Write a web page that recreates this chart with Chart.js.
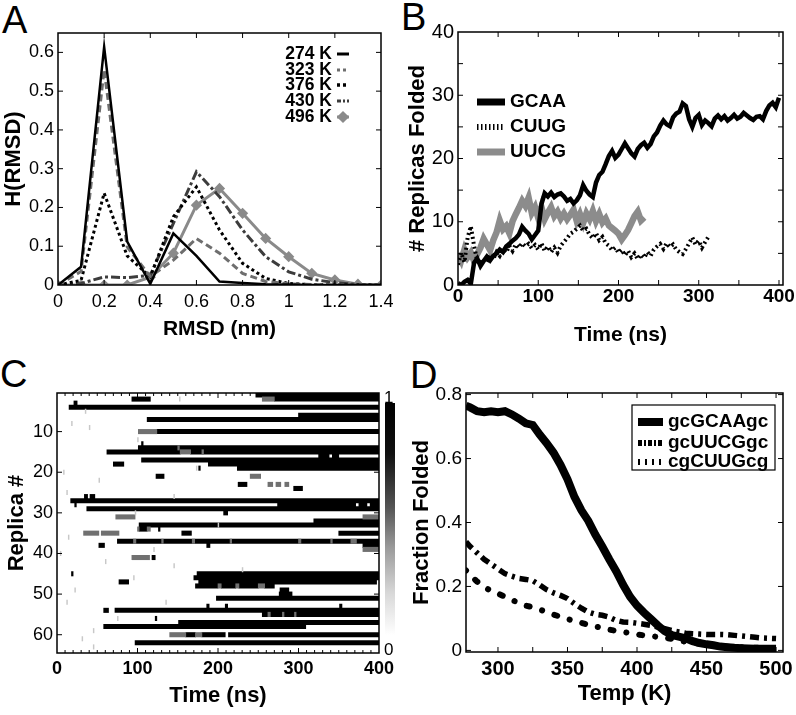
<!DOCTYPE html>
<html>
<head>
<meta charset="utf-8">
<script src="https://cdn.jsdelivr.net/npm/chart.js@4.4.1/dist/chart.umd.min.js"></script>
<style>
  body { margin: 0; background: #fff; width: 796px; height: 715px; position: relative; overflow: hidden;
         font-family: "Liberation Sans", Arial, sans-serif; }
  canvas { position: absolute; }
  .letter { position: absolute; font-size: 38px; line-height: 38px; color: #000; }
  .cbar { position: absolute; left: 385px; top: 403px; width: 10px; height: 232px;
          background: linear-gradient(#000 0%, #111 22%, #555 45%, #999 62%, #d8d8d8 82%, #fff 100%); }
  .cbar-lbl { position: absolute; font-size: 17px; line-height: 17px; }
</style>
</head>
<body>
<div class="letter" style="left:2px;top:1px">A</div>
<div class="letter" style="left:401px;top:-2px">B</div>
<div class="letter" style="left:0px;top:355px">C</div>
<div class="letter" style="left:410px;top:356px">D</div>

<canvas id="chartA" width="400" height="355" style="left:0;top:0"></canvas>
<canvas id="chartB" width="396" height="355" style="left:400px;top:0"></canvas>
<canvas id="chartC" width="400" height="355" style="left:0;top:360px"></canvas>
<canvas id="chartD" width="396" height="355" style="left:400px;top:360px"></canvas>
<div class="cbar"></div>
<div class="cbar-lbl" style="left:384px;top:389px">1</div>
<div class="cbar-lbl" style="left:384px;top:641px">0</div>

<script>
// ---------- panel A: RMSD histograms ----------
const rmsdBins = [0, 0.1, 0.2, 0.3, 0.4, 0.5, 0.6, 0.7, 0.8, 0.9, 1.0, 1.1, 1.2, 1.3, 1.4];
const tempLabels = ['274 K', '323 K', '376 K', '430 K', '496 K'];
const h274 = [0, 0.047, 0.614, 0.112, 0.003, 0.133, 0.075, 0.009, 0.005, 0.002, 0.001, 0, 0, 0, 0];
const h323 = [0, 0.035, 0.555, 0.098, 0.022, 0.064, 0.12, 0.082, 0.03, 0.009, 0.003, 0.001, 0, 0, 0];
const h376 = [0, 0.012, 0.237, 0.075, 0.021, 0.176, 0.253, 0.142, 0.056, 0.017, 0.004, 0.001, 0, 0, 0];
const h430 = [0, 0.004, 0.021, 0.019, 0.025, 0.159, 0.292, 0.228, 0.142, 0.073, 0.034, 0.015, 0.006, 0.001, 0];
const h496 = [0, 0, 0, 0, 0.02, 0.082, 0.206, 0.249, 0.185, 0.12, 0.073, 0.03, 0.013, 0.002, 0];

// ---------- panel B: replicas folded vs time [ns, count] ----------
const gcaaPts = [[0,0.3],[4,0],[8,0.5],[12,0.8],[16,0.2],[20,3.5],[24,4.2],[28,3],[32,3.8],[36,4.5],[40,3.9],
  [44,4.6],[48,5],[52,5.6],[56,5.2],[60,6.1],[64,6.5],[68,7],[72,7.4],[76,8],[80,9.2],[84,8.6],[88,8.1],
  [92,7.2],[96,7.9],[100,8.6],[104,12.8],[108,14.5],[112,14],[116,14.6],[120,13.9],[124,14.3],[128,14.5],
  [132,14],[136,13.3],[140,13.6],[144,12.9],[148,13.4],[152,14.2],[156,15.8],[160,14.9],[164,14.3],[168,13.9],
  [172,16.2],[176,17.4],[180,17.9],[184,19.1],[188,20.4],[192,21.2],[196,20.1],[200,20.6],[204,21.5],
  [208,22.4],[212,21.6],[216,20.8],[220,20.3],[224,21.5],[228,22.1],[232,22.5],[236,21.7],[240,22.3],
  [244,23.5],[248,24.1],[252,25.2],[256,26],[260,25.4],[264,25.1],[268,26.5],[272,27.1],[276,27.4],
  [280,28.7],[284,28.3],[288,26.2],[292,25],[296,26.4],[300,26.9],[304,25.3],[308,26],[312,25.6],
  [316,25.1],[320,26.3],[324,26.8],[328,26.2],[332,26.7],[336,26],[340,26.4],[344,26.9],[348,26.3],
  [352,26.6],[356,27.2],[360,26.8],[364,26.4],[368,26.1],[372,26.6],[376,26.7],[380,26.2],[384,27.5],
  [388,28.4],[392,28.8],[396,28.1],[400,29.6]];
const cuugPts = [[0,3.2],[4,5.1],[8,3.6],[12,7.5],[16,9.3],[20,6.2],[24,3.8],[28,3.4],[32,4.2],[36,3.6],
  [40,4.8],[44,4.1],[48,5.2],[52,4.6],[56,5.6],[60,5.1],[64,6.2],[68,5.4],[72,6.4],[76,5.9],[80,6.6],
  [84,6.1],[88,6.5],[92,5.8],[96,6.3],[100,5.6],[104,6.6],[108,5.4],[112,6.1],[116,5.2],[120,5.9],
  [124,5.1],[128,6.2],[132,6.8],[136,7.4],[140,8.1],[144,8.4],[148,8.9],[152,9.4],[156,8.6],[160,8.9],
  [164,7.9],[168,7.4],[172,8.2],[176,7.1],[180,7.6],[184,6.6],[188,6.2],[192,5.5],[196,5.9],[200,5.1],
  [204,5.6],[208,4.7],[212,5.4],[216,4.4],[220,5],[224,4.1],[228,4.8],[232,4.3],[236,5.2],[240,4.6],
  [244,5.6],[248,6.1],[252,6.5],[256,5.7],[260,6.6],[264,6],[268,6.4],[272,5.6],[276,5.2],[280,4.9],
  [284,5.7],[288,6.6],[292,7.5],[296,6.4],[300,7],[304,5.9],[308,6.8],[312,7.6]];
const uucgPts = [[0,5],[4,3.9],[8,5.6],[12,4.4],[16,5.1],[20,3.8],[24,4.9],[28,5.9],[32,7.3],[36,6.4],
  [40,5.5],[44,7.1],[48,8.3],[52,10.2],[56,8.8],[60,9.3],[64,8.2],[68,10.1],[72,11.2],[76,12.2],[80,13.3],
  [84,12.5],[88,13.8],[92,11.4],[96,12.3],[100,10.6],[104,12.3],[108,10.4],[112,11.4],[116,12.3],[120,10.9],
  [124,11.6],[128,10.5],[132,11.3],[136,10.4],[140,11.1],[144,11.9],[148,10.1],[152,11.2],[156,9.8],
  [160,11.3],[164,10.4],[168,11.7],[172,10.1],[176,11.2],[180,9.9],[184,10.5],[188,9.4],[192,9],[196,8.6],
  [200,8.1],[204,7.2],[208,7.9],[212,8.7],[216,9.8],[220,10.9],[224,11.6],[228,10.2],[232,10.7]];

// ---------- panel C: folded state per replica [replica, start ns, end ns] ----------
const heatBlack = [
  [1,247,400],[2,93,116],[2,270,400],[3,21,25],[4,15,400],[6,300,400],[7,112,400],[10,124,400],[13,105,107],
  [14,101,400],[15,62,153],[15,166,400],[16,325,338],[16,342,350],[17,105,400],[18,70,83],[18,188,400],
  [19,176,178],[19,224,400],[21,123,133],[23,225,236],[24,294,305],[26,34,38],[26,41,47],[27,17,400],
  [28,22,24],[28,274,371],[28,375,385],[28,389,400],[29,37,400],[30,207,212],[32,319,400],[33,102,400],
  [34,102,112],[34,126,128],[35,155,167],[35,350,400],[37,75,400],[38,52,59],[38,186,190],[38,380,400],
  [41,118,122],[45,18,20],[45,174,400],[46,170,400],[47,77,89],[47,176,397],[48,172,200],[48,204,222],
  [48,226,250],[48,258,270],[49,277,288],[50,276,292],[51,198,400],[53,186,189],[53,209,212],[53,351,354],
  [54,58,64],[54,72,400],[55,255,400],[56,122,124],[57,151,400],[58,58,309],[60,160,172],[60,180,209],
  [60,213,400],[62,97,400]];
const heatGray = [
  [2,255,270],[10,101,124],[15,153,166],[21,240,253],[23,262,268],[23,272,278],[23,283,288],[31,73,97],
  [31,380,400],[34,100,102],[34,112,116],[35,33,52],[35,55,77],[39,380,400],[41,93,115],[48,200,204],
  [48,222,226],[48,250,258],[60,140,160],[60,172,180],[37,95,98],[37,130,132],[37,168,171],[37,215,217],
  [37,300,303],[37,340,342],[37,365,372],[55,262,265],[55,280,282],[55,295,297],[14,150,152],[15,180,182]];
const heatSpecks = [
  [2,152,153],[5,35,36],[8,18,19],[9,40,41],[12,100,101],[19,173,174],[20,8,9],[22,52,53],[25,12,13],
  [26,145,146],[30,97,98],[33,200,201],[36,14,15],[39,120,121],[40,4,5],[42,60,61],[43,145,146],
  [44,230,231],[46,95,96],[49,22,23],[52,12,13],[52,135,136],[56,75,76],[59,45,46],[61,31,32],[63,45,46]];

// ---------- panel D: fraction folded vs temperature ----------
const dTemps = [277,280,285,290,295,300,305,310,315,320,325,330,335,340,345,350,355,360,365,370,375,380,
  385,390,395,400,405,410,415,420,425,430,435,440,445,450,455,460,465,470,475,480,485,490,495,500];
const gcaaFrac = [0.765,0.76,0.748,0.745,0.748,0.745,0.748,0.738,0.725,0.71,0.705,0.675,0.648,0.618,0.58,
  0.535,0.48,0.438,0.405,0.362,0.325,0.285,0.248,0.205,0.168,0.14,0.118,0.098,0.078,0.06,0.048,0.043,
  0.038,0.029,0.023,0.019,0.016,0.012,0.01,0.008,0.007,0.006,0.005,0.005,0.005,0.005];
const uucgFrac = [0.34,0.325,0.305,0.285,0.27,0.255,0.24,0.232,0.225,0.222,0.218,0.205,0.19,0.18,0.172,
  0.162,0.146,0.132,0.12,0.113,0.11,0.104,0.094,0.089,0.088,0.085,0.082,0.078,0.073,0.068,0.062,0.058,
  0.054,0.052,0.051,0.05,0.05,0.05,0.049,0.047,0.045,0.043,0.041,0.039,0.038,0.037];
const cuugFrac = [0.25,0.235,0.215,0.2,0.185,0.178,0.168,0.158,0.148,0.14,0.135,0.128,0.12,0.112,0.105,
  0.098,0.092,0.086,0.08,0.075,0.07,0.065,0.061,0.058,0.054,0.05,0.047,0.045,0.042,0.04,0.036,0.031,
  0.027,0.024,0.021,0.018,0.016,0.014,0.012,0.011,0.01,0.009,0.008,0.008,0.007,0.007];

Chart.defaults.font.family = '"Liberation Sans", Arial, sans-serif';
Chart.defaults.color = '#000';
Chart.defaults.animation = false;

// box around the plot + inward ticks on all four sides (MATLAB look)
const frameTicks = {
  id: 'frameTicks',
  afterDatasetsDraw(chart, args, o) {
    const { ctx, chartArea: a } = chart;
    const sx = chart.scales.x, sy = chart.scales.y;
    ctx.save();
    ctx.strokeStyle = '#000';
    ctx.lineWidth = 1;
    ctx.beginPath();
    sx.ticks.forEach(t => {
      const p = sx.getPixelForValue(t.value);
      if (p <= a.left + 1 || p >= a.right - 1) return;
      const len = (o.xMajor && Math.abs(t.value % o.xMajor) > 1e-6) ? 3 : 5;
      ctx.moveTo(p, a.bottom); ctx.lineTo(p, a.bottom - len);
      ctx.moveTo(p, a.top); ctx.lineTo(p, a.top + len);
    });
    sy.ticks.forEach(t => {
      const p = sy.getPixelForValue(t.value);
      if (p <= a.top + 1 || p >= a.bottom - 1) return;
      ctx.moveTo(a.left, p); ctx.lineTo(a.left + 5, p);
      ctx.moveTo(a.right, p); ctx.lineTo(a.right - 5, p);
    });
    ctx.stroke();
    ctx.lineWidth = 1.5;
    ctx.strokeRect(a.left, a.top, a.right - a.left, a.bottom - a.top);
    ctx.restore();
  }
};

// legend drawn inside the plot with a short line sample per dataset
const sampleLegend = {
  id: 'sampleLegend',
  afterDraw(chart, args, o) {
    if (!o.rows) return;
    const ctx = chart.ctx;
    ctx.save();
    if (o.box) {
      const b = o.box;
      ctx.fillStyle = '#fff';
      ctx.fillRect(b[0], b[1], b[2] - b[0], b[3] - b[1]);
      ctx.strokeStyle = '#000';
      ctx.lineWidth = 1.2;
      ctx.strokeRect(b[0], b[1], b[2] - b[0], b[3] - b[1]);
    }
    chart.data.datasets.forEach((ds, i) => {
      const y = o.rows[i];
      ctx.font = o.font;
      ctx.fillStyle = '#000';
      ctx.textBaseline = 'middle';
      ctx.textAlign = o.align || 'left';
      ctx.fillText(ds.label, o.textX, y);
      ctx.save();
      ctx.strokeStyle = ds.borderColor;
      ctx.lineWidth = o.widths ? o.widths[i] : ds.borderWidth;
      ctx.setLineDash(o.dashes ? o.dashes[i] : (ds.borderDash || []));
      ctx.lineCap = 'butt';
      ctx.beginPath(); ctx.moveTo(o.x0, y); ctx.lineTo(o.x1, y); ctx.stroke();
      if (ds.pointRadius) {
        ctx.setLineDash([]);
        ctx.fillStyle = ds.pointBackgroundColor;
        ctx.strokeStyle = ds.borderColor;
        Chart.helpers.drawPoint(ctx, { pointStyle: ds.pointStyle, radius: ds.pointRadius + 0.5, borderWidth: 1 }, (o.x0 + o.x1) / 2, y);
      }
      ctx.restore();
    });
    ctx.restore();
  }
};

function lineSet(label, data, color, width, dash, extra) {
  return Object.assign({ label, data, borderColor: color, backgroundColor: color, borderWidth: width,
    borderDash: dash, pointRadius: 0, tension: 0, fill: false }, extra || {});
}

function fixW(w) { return s => { s.width = w; s.paddingTop = 0; s.paddingBottom = 0; s.paddingLeft = 0; s.paddingRight = 0; }; }
function fixH(h) { return s => { s.height = h; s.paddingTop = 0; s.paddingBottom = 0; s.paddingLeft = 0; s.paddingRight = 0; }; }

const noGrid = { display: false, drawTicks: false };
const boldTitle = (text, size, pad) => ({ display: true, text, font: { size, weight: 'bold' }, padding: pad });

// ---------- A ----------
const pairs = (xs, ys) => xs.map((x, i) => ({ x, y: ys[i] }));
new Chart(document.getElementById('chartA'), {
  type: 'line',
  data: { datasets: [
    lineSet(tempLabels[0], pairs(rmsdBins, h274), '#000', 2.5, []),
    lineSet(tempLabels[1], pairs(rmsdBins, h323), '#6e6e6e', 3, [7, 4]),
    lineSet(tempLabels[2], pairs(rmsdBins, h376), '#000', 3, [3, 3]),
    lineSet(tempLabels[3], pairs(rmsdBins, h430), '#3c3c3c', 3, [9, 3, 3, 3]),
    lineSet(tempLabels[4], pairs(rmsdBins, h496), '#8a8a8a', 3, [],
      { pointRadius: 3.5, pointStyle: 'rectRot', pointBackgroundColor: '#8a8a8a', pointBorderColor: '#8a8a8a' })
  ]},
  options: {
    responsive: false,
    layout: { padding: { top: 33, right: 19, left: 0, bottom: 0 } },
    plugins: {
      legend: { display: false }, tooltip: { enabled: false },
      sampleLegend: { rows: [54, 70, 85, 101, 117], textX: 332, align: 'right', x0: 337, x1: 349,
        font: 'bold 17.5px "Liberation Sans", Arial, sans-serif', widths: [3, 3, 3.5, 3, 3], dashes: [[], [3, 3], [3, 3], [4, 2, 2, 2], []] },
      frameTicks: {}
    },
    scales: {
      x: { type: 'linear', min: 0, max: 1.4, grid: noGrid, border: { display: false },
        ticks: { stepSize: 0.2, padding: 6, font: { size: 18 }, callback: v => +v.toFixed(1) },
        title: boldTitle('RMSD (nm)', 21, { top: 0, bottom: 13 }), afterFit: fixH(70) },
      y: { min: 0, max: 0.65, grid: noGrid, border: { display: false },
        ticks: { stepSize: 0.1, padding: 4, font: { size: 18 }, includeBounds: false, callback: v => +v.toFixed(1) },
        title: boldTitle('H(RMSD)', 22, { top: 1, bottom: 0 }), afterFit: fixW(58) }
    }
  },
  plugins: [frameTicks, sampleLegend]
});

// ---------- B ----------
const toXY = pts => pts.map(([x, y]) => ({ x, y }));
new Chart(document.getElementById('chartB'), {
  type: 'line',
  data: { datasets: [
    lineSet('GCAA', toXY(gcaaPts), '#000', 4.5, []),
    lineSet('CUUG', toXY(cuugPts), '#000', 4, [2, 3]),
    lineSet('UUCG', toXY(uucgPts), '#8c8c8c', 6.5, [])
  ]},
  options: {
    responsive: false,
    layout: { padding: { top: 32, right: 13, left: 0, bottom: 0 } },
    plugins: {
      legend: { display: false }, tooltip: { enabled: false },
      sampleLegend: { rows: [102, 127, 152], textX: 110, x0: 77, x1: 105,
        font: 'bold 19px "Liberation Sans", Arial, sans-serif', widths: [7, 6, 7], dashes: [[], [1.5, 2.5], []] },
      frameTicks: {}
    },
    scales: {
      x: { type: 'linear', min: 0, max: 405, grid: noGrid, border: { display: false },
        ticks: { stepSize: 50, padding: 0, includeBounds: false, autoSkip: false, font: { size: 19, weight: 'bold' },
          callback: v => v % 100 === 0 ? v : '' },
        title: boldTitle('Time (ns)', 21, { top: 0, bottom: 7 }), afterFit: fixH(70) },
      y: { min: 0, max: 40, grid: noGrid, border: { display: false },
        ticks: { stepSize: 5, padding: 4, autoSkip: false, font: { size: 20 }, callback: v => v % 10 === 0 ? v : '' },
        title: boldTitle('# Replicas Folded', 22, { top: 5, bottom: 0 }), afterFit: fixW(58) }
    }
  },
  plugins: [frameTicks, sampleLegend]
});

// ---------- C ----------
const segs = list => list.map(([r, a, b]) => ({ y: r, x: [a, b] }));
const heatSet = (data, color) => ({ data: segs(data), backgroundColor: color, borderWidth: 0,
  barThickness: 4.4, grouped: false });
new Chart(document.getElementById('chartC'), {
  type: 'bar',
  data: { datasets: [heatSet(heatSpecks, '#c8c8c8'), heatSet(heatGray, '#707070'), heatSet(heatBlack, '#000')] },
  options: {
    responsive: false,
    indexAxis: 'y',
    layout: { padding: { top: 33, right: 21, left: 0, bottom: 0 } },
    plugins: { legend: { display: false }, tooltip: { enabled: false }, frameTicks: { xMajor: 100 } },
    scales: {
      x: { type: 'linear', min: 0, max: 400, grid: noGrid, border: { display: false },
        ticks: { stepSize: 10, maxTicksLimit: 100, autoSkip: false, padding: 5, maxRotation: 0,
          font: { size: 18, weight: 'bold' }, callback: v => v % 100 === 0 ? v : '' },
        title: boldTitle('Time (ns)', 22, { top: 0, bottom: 6 }), afterFit: fixH(62) },
      y: { type: 'linear', reverse: true, min: 0.5, max: 64.5, offset: false, grid: noGrid, border: { display: false },
        ticks: { stepSize: 10, includeBounds: false, padding: 4, font: { size: 18 } },
        title: boldTitle('Replica #', 22, { top: 4, bottom: 0 }), afterFit: fixW(57) }
    }
  },
  plugins: [frameTicks]
});

// ---------- D ----------
new Chart(document.getElementById('chartD'), {
  type: 'line',
  data: { datasets: [
    lineSet('gcGCAAgc', pairs(dTemps, gcaaFrac), '#000', 8, []),
    lineSet('gcUUCGgc', pairs(dTemps, uucgFrac), '#000', 5.5, [9, 5, 3, 5]),
    lineSet('cgCUUGcg', pairs(dTemps, cuugFrac), '#000', 6, [0.1, 13, 3, 13], { borderCapStyle: 'round' })
  ]},
  options: {
    responsive: false,
    layout: { padding: { top: 33, right: 13, left: 0, bottom: 0 } },
    plugins: {
      legend: { display: false }, tooltip: { enabled: false },
      sampleLegend: { box: [232, 45, 375, 110], rows: [62, 83, 102], textX: 268, x0: 238, x1: 263,
        font: 'bold 19px "Liberation Sans", Arial, sans-serif', widths: [8, 6, 6], dashes: [[], [4, 2, 2, 2], [2, 5]] },
      frameTicks: {}
    },
    scales: {
      x: { type: 'linear', min: 277, max: 505, grid: noGrid, border: { display: false },
        ticks: { stepSize: 25, includeBounds: false, autoSkip: false, padding: 5, font: { size: 20, weight: 'bold' },
          callback: v => v % 50 === 0 ? v : '' },
        title: boldTitle('Temp (K)', 22, { top: 0, bottom: 8 }), afterFit: fixH(63) },
      y: { min: -0.005, max: 0.805, grid: noGrid, border: { display: false },
        ticks: { stepSize: 0.2, includeBounds: false, padding: 4, font: { size: 19 }, callback: v => +v.toFixed(1) },
        title: boldTitle('Fraction Folded', 22, { top: 9, bottom: 0 }), afterFit: fixW(66) }
    }
  },
  plugins: [frameTicks, sampleLegend]
});
</script>
</body>
</html>
